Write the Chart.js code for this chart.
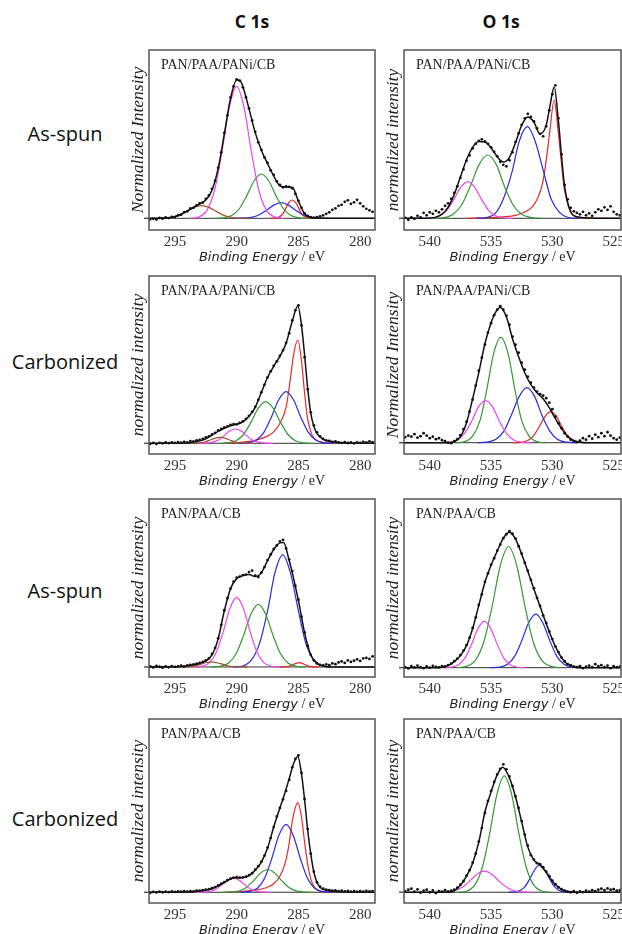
<!DOCTYPE html>
<html>
<head>
<meta charset="utf-8">
<script src="https://cdn.jsdelivr.net/npm/chart.js@4.4.1/dist/chart.umd.min.js"></script>
<style>
html, body { margin: 0; padding: 0; background: #fff; overflow: hidden; width: 622px; height: 934px; }
canvas { position: absolute; }
.t { position: absolute; font-family: "Open Sans"; color: #111; white-space: nowrap; transform: translate(-50%, -50%); }
</style>
</head>
<body>
<div class="t" style="left:252px;top:21px;font-weight:700;font-size:17.5px">C 1s</div>
<div class="t" style="left:501px;top:21px;font-weight:700;font-size:17.5px">O 1s</div>
<div class="t" style="left:65px;top:133px;font-size:20px">As-spun</div>
<div class="t" style="left:65px;top:361px;font-size:20px">Carbonized</div>
<div class="t" style="left:65px;top:590px;font-size:20px">As-spun</div>
<div class="t" style="left:65px;top:818px;font-size:20px">Carbonized</div>
<script>
// ---- axis ticks and ranges (binding energy, eV) ----
const cTicks = [295, 290, 285, 280];
const oTicks = [540, 535, 530, 525];
const cRange = [278.8, 297.1];
const oRange = [524.4, 542.1];

const sampleNames = ['PAN/PAA/PANi/CB', 'PAN/PAA/PANi/CB', 'PAN/PAA/PANi/CB', 'PAN/PAA/PANi/CB',
                     'PAN/PAA/CB', 'PAN/PAA/CB', 'PAN/PAA/CB', 'PAN/PAA/CB'];
const yTitles = ['Normalized Intensity', 'normalized intensity', 'normalized intensity', 'Normalized Intensity',
                 'normalized intensity', 'normalized intensity', 'normalized intensity', 'normalized intensity'];

// energies of the measured points
const cDotE = [297, 296.75, 296.5, 296.25, 296, 295.75, 295.5, 295.25,
  295, 294.75, 294.5, 294.25, 294, 293.75, 293.5, 293.25,
  293, 292.75, 292.5, 292.25, 292, 291.75, 291.5, 291.25,
  291, 290.75, 290.5, 290.25, 290, 289.75, 289.5, 289.25,
  289, 288.75, 288.5, 288.25, 288, 287.75, 287.5, 287.25,
  287, 286.75, 286.5, 286.25, 286, 285.75, 285.5, 285.25,
  285, 284.75, 284.5, 284.25, 284, 283.75, 283.5, 283.25,
  283, 282.75, 282.5, 282.25, 282, 281.75, 281.5, 281.25,
  281, 280.75, 280.5, 280.25, 280, 279.75, 279.5, 279.25,
  279];
const oDotE = [542, 541.75, 541.5, 541.25, 541, 540.75, 540.5, 540.25,
  540, 539.75, 539.5, 539.25, 539, 538.75, 538.5, 538.25,
  538, 537.75, 537.5, 537.25, 537, 536.75, 536.5, 536.25,
  536, 535.75, 535.5, 535.25, 535, 534.75, 534.5, 534.25,
  534, 533.75, 533.5, 533.25, 533, 532.75, 532.5, 532.25,
  532, 531.75, 531.5, 531.25, 531, 530.75, 530.5, 530.25,
  530, 529.75, 529.5, 529.25, 529, 528.75, 528.5, 528.25,
  528, 527.75, 527.5, 527.25, 527, 526.75, 526.5, 526.25,
  526, 525.75, 525.5, 525.25, 525, 524.75, 524.5];

// ---- C 1s, as-spun, PAN/PAA/PANi/CB ----
const c1Dots = [-1.0, -0.5, -1.2, 0.3, -0.4, 0.8, 0.2, 1.5,
  1.2, 3.0, 3.6, 6.2, 7.0, 9.8, 10.5, 13.0,
  14.8, 15.6, 19.5, 22.8, 29.5, 37.5, 50.5, 66.0,
  85.5, 103, 121, 132, 139, 137.5, 131, 121,
  110, 98, 86.5, 76, 68.5, 61, 55.5, 48,
  43.5, 37.0, 33.5, 31.0, 31.8, 31.5, 30.0, 24.5,
  17.5, 10.5, 5.0, 2.5, 1.2, 0.6, 1.2, 2.0,
  3.0, 4.5, 6.0, 8.5, 10.0, 12.5, 13.5, 16.5,
  18.0, 14.5, 16.0, 18.5, 15.0, 12.0, 9.5, 8.0,
  6.5];
const c1Env = [[297.1,0],[296.5,0.1],[296,0.2],[295.5,0.6],[295,1.8],[294.5,4.1],[294,7.4],[293.5,11],[293,14.4],[292.5,18.4],[292,28.1],[291.5,49.9],[291,84.5],[290.5,119.9],[290,138.4],[289.75,138],[289.5,131.8],[289,109.4],[288.5,85.7],[288,68.1],[287.5,54.7],[287,42.3],[286.5,32.4],[286,31.3],[285.5,31.1],[285,17],[284.5,4.6],[284,1.0],[283.5,0.2],[283,0],[278.8,0]];
const c1Brn = [[296.9,0],[296.1,0.1],[295.35,0.8],[294.7,2.7],[294.1,6.4],[293.5,10.7],[292.85,12.7],[292.2,10.7],[291.6,6.4],[291,2.7],[290.35,0.8],[289.6,0.1],[288.9,0]];
const c1Mag = [[293.8,0],[293.1,1.2],[292.4,8.2],[291.8,27.7],[291.2,65.9],[290.6,110.8],[290,131.7],[289.4,110.8],[288.8,65.9],[288.2,27.7],[287.6,8.2],[286.9,1.2],[286.2,0]];
const c1Grn = [[291.8,0],[291.1,0.4],[290.4,2.8],[289.8,9.3],[289.2,22.2],[288.6,37.3],[288,44.3],[287.4,37.3],[286.8,22.2],[286.2,9.3],[285.6,2.8],[284.9,0.4],[284.2,0]];
const c1Blu = [[290.2,0],[289.5,0.1],[288.8,1],[288.2,3.3],[287.6,7.9],[287,13.2],[286.4,15.7],[285.8,13.2],[285.2,7.9],[284.6,3.3],[284,1],[283.3,0.1],[282.6,0]];
const c1Red = [[287.3,0],[286.9,0.2],[286.6,1.1],[286.3,3.8],[286.05,9.2],[285.8,15.4],[285.5,18.3],[285.2,15.4],[284.95,9.2],[284.7,3.8],[284.4,1.1],[284.1,0.2],[283.7,0]];

// ---- O 1s, as-spun, PAN/PAA/PANi/CB ----
const o1Dots = [0.5, -1.5, 1.0, -0.5, 2.5, 1.0, 5.5, 3.0,
  6.0, 4.5, 7.5, 6.0, 9.0, 12.5, 15.0, 19.5,
  25.5, 32.0, 40.5, 49.0, 57.5, 63.0, 70.0, 74.5,
  77.5, 79.0, 77.0, 74.5, 71.0, 66.5, 62.0, 56.5,
  53.5, 52.0, 58.0, 66.0, 76.5, 85.0, 93.5, 100.0,
  104.5, 101.5, 97.0, 90.0, 84.5, 82.0, 92.0, 108.0,
  124.0, 133.0, 100.0, 64.0, 33.5, 19.0, 10.5, 7.0,
  5.5, 4.0, 6.5, 3.0, 5.0, 2.5, 6.0, 9.0,
  7.5, 11.0, 8.5, 12.0, 6.5, 4.0, 3.0];
const o1Env = [[542.1,0],[540.5,0],[540,0.2],[539.5,1.2],[539,4.1],[538.5,11.2],[538,23.9],[537.5,41.3],[537,58.6],[536.5,71],[536,76.8],[535.5,76.3],[535,70.5],[534.5,61.7],[534,56.2],[533.5,61],[533,75.7],[532.5,93],[532,101.2],[531.5,96.1],[531,84.3],[530.5,93.2],[530.2,112],[529.85,131.4],[529.5,96.6],[529.25,62],[529,32],[528.5,6.5],[528,1.5],[527,0.3],[526,0],[524.4,0]];
const o1Mag = [[540.6,0],[539.9,0.3],[539.2,2.3],[538.63,7.7],[538.05,18.4],[537.48,30.9],[536.9,36.7],[536.33,30.9],[535.75,18.4],[535.18,7.7],[534.6,2.3],[533.9,0.3],[533.2,0]];
const o1Grn = [[539.6,0],[538.9,0.5],[538.1,4],[537.4,13.3],[536.7,31.7],[536,53.2],[535.27,63.3],[534.55,53.2],[533.9,31.7],[533.2,13.3],[532.5,4],[531.6,0.5],[530.9,0]];
const o1Blu = [[536.2,0],[535.4,0.8],[534.6,5.7],[534,19.3],[533.3,45.9],[532.7,77.1],[532.03,91.7],[531.4,77.1],[530.7,45.9],[530.1,19.3],[529.4,5.7],[528.7,0.8],[527.9,0]];
const o1Red = [[537,0],[535.5,0.4],[534,1.5],[533,3],[532.5,5],[532,8],[531.6,12],[531.2,20],[530.8,35],[530.5,58],[530.2,88],[529.85,118.3],[529.55,90],[529.3,60],[529.05,32],[528.8,17],[528.5,6],[528,1.5],[527,0.3],[525.5,0]];

// ---- C 1s, carbonized, PAN/PAA/PANi/CB ----
const c2Dots = [-0.5, 0.3, -0.8, 0.5, 0.0, 0.8, 0.2, 1.0,
  0.5, 1.2, 0.6, 1.5, 1.0, 2.2, 1.8, 3.0,
  3.5, 4.5, 5.8, 7.0, 8.8, 10.5, 12.8, 14.5,
  16.0, 17.0, 18.5, 19.2, 19.0, 20.5, 22.0, 24.5,
  27.5, 31.5, 36.5, 43.5, 51.0, 58.5, 66.0, 72.0,
  77.5, 82.0, 87.5, 93.0, 100.5, 110.0, 123.0, 133.0,
  138.0, 118.0, 86.0, 54.0, 31.0, 18.0, 11.0, 7.0,
  4.5, 3.0, 2.5, 1.5, 1.8, 1.0, 0.5, 1.2,
  0.3, 0.8, 0.0, 1.0, 0.5, 1.5, 0.8, 2.0,
  1.2];
const c2Env = [[297.1,0],[294,0.3],[293.5,1.2],[293,2.5],[292.5,4.5],[292,8],[291.5,12],[291,15],[290.5,17.5],[290,19],[289.5,21.5],[289,27],[288.5,36],[288,51],[287.5,66],[287,77],[286.5,87],[286,100],[285.5,122],[285.05,137.3],[284.75,118],[284.5,88],[284.25,55],[284,30],[283.75,17],[283.5,10],[283,4],[282.5,2],[282,1],[281,0.3],[278.8,0]];
const c2Brn = [[294.05,0],[293.55,0.05],[293.05,0.4],[292.6,1.3],[292.2,3],[291.8,5],[291.35,6],[290.9,5],[290.5,3],[290.1,1.3],[289.65,0.4],[289.15,0.05],[288.65,0]];
const c2Mag = [[293.15,0],[292.55,0.1],[292,0.9],[291.5,3],[291.05,7.2],[290.6,12],[290.1,14.3],[289.6,12],[289.15,7.2],[288.7,3],[288.2,0.9],[287.6,0.1],[287.05,0]];
const c2Grn = [[291.45,0],[290.75,0.4],[290.05,2.6],[289.45,8.8],[288.85,20.9],[288.25,35.1],[287.65,41.7],[287.05,35.1],[286.45,20.9],[285.85,8.8],[285.25,2.6],[284.55,0.4],[283.85,0]];
const c2Blu = [[289.8,0],[289.1,0.5],[288.4,3.2],[287.8,10.9],[287.2,25.9],[286.6,43.5],[286,51.7],[285.4,43.5],[284.8,25.9],[284.2,10.9],[283.6,3.2],[282.9,0.5],[282.2,0]];
const c2Red = [[291,0],[289.5,1.2],[288.6,2.7],[287.6,6.7],[287,11.5],[286.5,20],[286,36],[285.7,60],[285.4,88],[285.05,103.3],[284.75,82],[284.5,50],[284.3,28],[284.1,16],[283.9,8.3],[283.5,2.7],[283,0.8],[282,0]];

// ---- O 1s, carbonized, PAN/PAA/PANi/CB ----
const o2Dots = [5.5, 7.0, 6.0, 8.5, 5.0, 6.5, 9.5, 7.0,
  4.5, 6.0, 3.5, 4.5, 2.5, 1.5, 0.0, -0.5,
  1.5, 3.5, 7.5, 13.5, 21.0, 31.0, 43.0, 57.0,
  72.0, 85.0, 98.0, 110.0, 119.5, 127.5, 133.0, 136.5,
  133.0, 127.0, 118.0, 106.0, 98.0, 90.0, 80.0, 73.0,
  66.0, 60.0, 55.0, 51.0, 48.5, 47.0, 44.5, 40.0,
  33.5, 26.0, 19.5, 14.5, 9.5, 6.0, 3.0, 1.5,
  0.5, 2.0, 4.5, 3.0, 6.5, 4.0, 8.0, 5.5,
  9.5, 6.5, 10.5, 7.0, 4.5, 3.0, 5.0];
const o2Env = [[542.1,0],[538.5,0],[538,1],[537.5,6],[537,20],[536.5,44],[536,70],[535.5,99],[535,120],[534.6,131],[534.25,135.3],[533.75,126],[533.25,104],[532.75,86],[532.25,70],[531.75,58],[531.25,50],[530.75,44],[530.25,35],[529.75,24],[529.25,14],[528.75,6],[528.25,2],[527.75,0.5],[527,0],[524.4,0]];
const o2Mag = [[539.15,0],[538.45,0.4],[537.75,2.6],[537.2,8.8],[536.6,21],[536.05,35.3],[535.45,42],[534.85,35.3],[534.3,21],[533.7,8.8],[533.15,2.6],[532.45,0.4],[531.75,0]];
const o2Grn = [[537.9,0],[537.2,0.9],[536.5,6.6],[535.9,22.1],[535.35,52.7],[534.8,88.6],[534.2,105.3],[533.6,88.6],[533.05,52.7],[532.5,22.1],[531.9,6.6],[531.2,0.9],[530.5,0]];
const o2Blu = [[536.1,0],[535.35,0.5],[534.6,3.4],[533.95,11.6],[533.35,27.5],[532.7,46.3],[532.08,55],[531.45,46.3],[530.85,27.5],[530.2,11.6],[529.6,3.4],[528.85,0.5],[528.1,0]];
const o2Red = [[533.2,0],[532.6,0.3],[532.05,1.9],[531.55,6.5],[531.1,15.5],[530.6,26.1],[530.14,31],[529.65,26.1],[529.2,15.5],[528.7,6.5],[528.2,1.9],[527.6,0.3],[527.1,0]];

// ---- C 1s, as-spun, PAN/PAA/CB ----
const c3Dots = [0.5, -0.5, 1.0, 0.2, -0.8, 0.5, -0.3, 0.8,
  0.0, 0.6, 1.2, 0.5, 1.5, 2.0, 2.5, 3.2,
  4.0, 5.0, 6.5, 8.5, 13.0, 19.0, 28.5, 42.0,
  56.5, 68.5, 78.0, 85.0, 89.0, 90.0, 91.5, 92.0,
  94.5, 96.0, 91.0, 89.5, 94.0, 99.5, 106.5, 112.0,
  117.5, 121.0, 125.0, 126.5, 118.0, 107.0, 95.5, 81.0,
  67.0, 50.0, 34.5, 21.0, 12.0, 6.5, 3.5, 2.0,
  1.5, 2.5, 1.8, 3.5, 2.8, 4.5, 5.5, 4.0,
  6.5, 5.0, 6.2, 7.5, 6.0, 8.5, 9.0, 8.0,
  10.5];
const c3Env = [[297.1,0],[294.5,0.5],[294,1.2],[293.5,2.2],[293,3.5],[292.5,6],[292,12],[291.5,28],[291,56],[290.5,78],[290,88],[289.5,91],[289,92],[288.5,90],[288,94],[287.5,106],[287,117],[286.5,123.6],[286.2,124],[285.75,106],[285.5,94],[285,66],[284.5,34],[284,12],[283.5,3.5],[283,1],[282.5,0],[278.8,0]];
const c3Brn = [[294.9,0],[294.35,0.05],[293.8,0.3],[293.4,1.05],[292.95,2.5],[292.5,4.2],[292.03,5],[291.6,4.2],[291.1,2.5],[290.7,1.05],[290.2,0.3],[289.7,0.05],[289.1,0]];
const c3Mag = [[293.5,0],[292.85,0.6],[292.2,4.3],[291.65,14.6],[291.1,34.7],[290.55,58.3],[290,69.3],[289.45,58.3],[288.9,34.7],[288.35,14.6],[287.8,4.3],[287.15,0.6],[286.5,0]];
const c3Grn = [[292.05,0],[291.35,0.6],[290.65,3.9],[290.05,13.1],[289.45,31.2],[288.85,52.4],[288.24,62.3],[287.65,52.4],[287.05,31.2],[286.45,13.1],[285.85,3.9],[285.15,0.6],[284.45,0]];
const c3Blu = [[290.3,0],[289.5,1],[288.8,7],[288.15,23.5],[287.5,55.9],[286.9,93.9],[286.27,111.7],[285.65,93.9],[285,55.9],[284.4,23.5],[283.75,7],[283,1],[282.3,0]];
const c3Red = [[286.55,0],[286.25,0.04],[285.95,0.3],[285.7,0.9],[285.45,2.2],[285.2,3.6],[284.95,4.3],[284.7,3.6],[284.45,2.2],[284.2,0.9],[283.95,0.3],[283.65,0.04],[283.35,0]];

// ---- O 1s, as-spun, PAN/PAA/CB ----
const o3Dots = [0.5, -0.8, 1.5, 0.2, 2.0, 0.5, -0.5, 1.2,
  0.0, 1.8, 0.8, 0.3, 1.5, 1.2, 2.5, 4.0,
  6.5, 9.0, 12.5, 17.0, 22.5, 30.0, 39.5, 50.0,
  62.5, 73.0, 85.5, 94.0, 102.5, 109.0, 116.5, 122.5,
  129.0, 133.0, 136.0, 133.5, 128.5, 121.0, 113.5, 104.5,
  96.5, 87.5, 79.0, 69.5, 61.5, 52.0, 44.5, 36.0,
  28.5, 21.0, 15.5, 10.0, 6.5, 3.5, 2.5, 1.0,
  0.5, 1.5, -0.5, 1.0, 2.0, 0.5, 3.5, 1.5,
  2.5, 0.5, 2.0, -0.5, 1.5, 0.5, 1.0];
const o3Env = [[542.1,0],[539.5,0],[539,0.5],[538.5,2],[538,6],[537.5,12],[537,22],[536.5,39],[536,62],[535.5,85],[535,102],[534.5,116],[534,129],[533.5,135],[533,128],[532.5,113],[532,96],[531.5,78],[531,61],[530.5,44],[530,28],[529.5,15],[529,6],[528.5,2],[528,0.5],[527.5,0],[524.4,0]];
const o3Mag = [[538.9,0],[538.27,0.4],[537.64,2.9],[537.12,9.7],[536.59,23.2],[536.07,38.9],[535.54,46.3],[535.02,38.9],[534.49,23.2],[533.97,9.7],[533.44,2.9],[532.81,0.4],[532.18,0]];
const o3Grn = [[537.87,0],[537.07,1.1],[536.27,7.5],[535.6,25.3],[534.92,60.4],[534.25,101.5],[533.57,120.7],[532.9,101.5],[532.22,60.4],[531.55,25.3],[530.87,7.5],[530.07,1.1],[529.27,0]];
const o3Blu = [[535.05,0],[534.35,0.5],[533.65,3.3],[533.08,11.2],[532.5,26.7],[531.93,44.8],[531.35,53.3],[530.78,44.8],[530.2,26.7],[529.63,11.2],[529.05,3.3],[528.35,0.5],[527.65,0]];

// ---- C 1s, carbonized, PAN/PAA/CB ----
const c4Dots = [-0.5, 0.3, -0.2, 0.5, 0.0, 0.6, 0.2, 0.8,
  0.4, 0.9, 0.5, 1.0, 0.6, 1.2, 0.8, 1.5,
  1.6, 2.2, 2.6, 3.2, 4.0, 5.2, 6.8, 8.5,
  10.2, 12.0, 13.5, 14.6, 15.0, 14.5, 14.8, 15.5,
  17.0, 19.0, 22.5, 26.0, 30.5, 36.5, 44.5, 54.0,
  65.0, 75.5, 84.0, 92.5, 101.0, 112.0, 124.5, 133.0,
  136.5, 119.0, 93.0, 63.0, 38.5, 20.5, 10.0, 5.5,
  3.5, 2.5, 2.0, 1.5, 1.8, 1.2, 1.5, 0.8,
  1.3, 0.7, 1.2, 0.5, 1.0, 0.6, 1.4, 0.8,
  1.2];
const c4Env = [[297.1,0],[294,0.3],[293.5,0.6],[293,1.2],[292.5,2],[292,3.5],[291.5,6.5],[291,10],[290.5,13.2],[290.1,14.5],[289.5,14.5],[289,16.5],[288.5,22],[288,30],[287.5,44],[287,65],[286.5,84],[286.2,95],[285.75,113],[285.4,128],[285.05,135.3],[284.75,118],[284.5,92],[284.25,62],[284,38],[283.75,20],[283.5,10],[283.25,5],[283,3],[282.5,1.5],[282,0.8],[281,0.3],[278.8,0]];
const c4Mag = [[293.31,0],[292.74,0.1],[292.17,0.9],[291.7,3],[291.22,7.2],[290.75,12],[290.27,14.3],[289.8,12],[289.32,7.2],[288.85,3],[288.37,0.9],[287.8,0.1],[287.23,0]];
const c4Grn = [[291.19,0],[290.49,0.2],[289.79,1.4],[289.22,4.8],[288.64,11.4],[288.07,19.1],[287.49,22.7],[286.92,19.1],[286.34,11.4],[285.77,4.8],[285.19,1.4],[284.49,0.2],[283.79,0]];
const c4Blu = [[289.7,0],[289,0.6],[288.3,4.2],[287.73,14.2],[287.15,33.9],[286.58,56.9],[286,67.7],[285.43,56.9],[284.85,33.9],[284.28,14.2],[283.7,4.2],[283,0.6],[282.3,0]];
const c4Red = [[291,0],[289.5,1],[288.5,2.2],[287.6,4.5],[287,8.5],[286.5,16],[286.1,28],[285.8,45],[285.45,74],[285.05,89.3],[284.75,75],[284.5,50],[284.3,32],[284.1,18],[283.85,8],[283.5,2.5],[283,0.5],[282,0]];

// ---- O 1s, carbonized, PAN/PAA/CB ----
const o4Dots = [1.0, 2.5, 3.5, 0.5, 2.8, -0.5, 1.5, 2.5,
  0.0, 1.8, -0.8, 1.2, 0.5, 2.0, 0.8, 1.5,
  2.5, 4.5, 7.5, 11.0, 16.5, 22.0, 29.5, 38.5,
  50.5, 64.0, 79.0, 91.0, 101.0, 110.0, 117.5, 123.0,
  127.5, 122.5, 115.5, 106.0, 95.5, 84.0, 71.0, 57.5,
  46.5, 37.0, 32.5, 29.0, 28.0, 25.0, 20.5, 16.0,
  11.5, 8.0, 5.0, 3.0, 1.5, 0.5, 0.0, 1.0,
  -0.5, 0.8, 0.2, 1.5, 0.5, 2.0, 1.0, 2.5,
  3.5, 2.0, 3.8, 2.5, 3.0, 1.5, 2.0];
const o4Env = [[542.1,0],[538.5,0],[538,1.5],[537.5,7],[537,16],[536.5,29],[536,50],[535.5,80],[535,100],[534.5,117],[534.05,124.7],[533.5,114],[533,95],[532.5,70],[532,45],[531.5,32],[531,27],[530.5,20],[530,11],[529.5,5],[529,1.5],[528.5,0.3],[528,0],[524.4,0]];
const o4Mag = [[539.54,0],[538.79,0.2],[538.04,1.3],[537.42,4.4],[536.79,10.5],[536.17,17.7],[535.54,21],[534.92,17.7],[534.29,10.5],[533.67,4.4],[533.04,1.3],[532.29,0.2],[531.54,0]];
const o4Grn = [[537.72,0],[537.02,1],[536.32,7.3],[535.72,24.4],[535.12,58],[534.52,97.6],[533.92,116],[533.32,97.6],[532.72,58],[532.12,24.4],[531.52,7.3],[530.82,1],[530.12,0]];
const o4Blu = [[533.59,0],[533.11,0.25],[532.63,1.7],[532.23,5.7],[531.83,13.5],[531.43,22.7],[531.03,27],[530.63,22.7],[530.23,13.5],[529.83,5.7],[529.43,1.7],[528.95,0.25],[528.47,0]];

// ---- layout and styles ----
const colors = { brn: '#a0522d', mag: '#ee44ee', grn: '#339933', blu: '#2a2ae0', red: '#e82828' };
const rowTop = [50, 276, 499, 719];
const rowH = [180, 178, 178, 184];
const rowY = [[-11.7, 168.3], [-10.7, 167.3], [-10, 167.3], [-10.7, 172.7]];
const oRowY = [[-11.7, 168.3], [-11.3, 166.7], [-9.3, 168], [-10.7, 172.7]];

const panels = [
  { col: 'c', row: 0, dots: c1Dots, env: c1Env, parts: [[c1Brn, 'brn'], [c1Mag, 'mag'], [c1Grn, 'grn'], [c1Blu, 'blu'], [c1Red, 'red']] },
  { col: 'o', row: 0, dots: o1Dots, env: o1Env, parts: [[o1Mag, 'mag'], [o1Grn, 'grn'], [o1Blu, 'blu'], [o1Red, 'red']] },
  { col: 'c', row: 1, dots: c2Dots, env: c2Env, parts: [[c2Brn, 'brn'], [c2Mag, 'mag'], [c2Grn, 'grn'], [c2Blu, 'blu'], [c2Red, 'red']] },
  { col: 'o', row: 1, dots: o2Dots, env: o2Env, parts: [[o2Mag, 'mag'], [o2Grn, 'grn'], [o2Blu, 'blu'], [o2Red, 'red']] },
  { col: 'c', row: 2, dots: c3Dots, env: c3Env, parts: [[c3Brn, 'brn'], [c3Mag, 'mag'], [c3Grn, 'grn'], [c3Blu, 'blu'], [c3Red, 'red']] },
  { col: 'o', row: 2, dots: o3Dots, env: o3Env, parts: [[o3Mag, 'mag'], [o3Grn, 'grn'], [o3Blu, 'blu']] },
  { col: 'c', row: 3, dots: c4Dots, env: c4Env, parts: [[c4Mag, 'mag'], [c4Grn, 'grn'], [c4Blu, 'blu'], [c4Red, 'red']] },
  { col: 'o', row: 3, dots: o4Dots, env: o4Env, parts: [[o4Mag, 'mag'], [o4Grn, 'grn'], [o4Blu, 'blu']] }
];

// box frame, sample name, axis titles
const frame = {
  id: 'frame',
  afterDatasetsDraw(chart, args, opts) {
    const { ctx, chartArea: a } = chart;
    const y0 = chart.scales.y.getPixelForValue(0);
    ctx.save();
    ctx.strokeStyle = '#555';
    ctx.lineWidth = 1.5;
    ctx.strokeRect(a.left, a.top, a.right - a.left, a.bottom - a.top);
    ctx.beginPath();
    ctx.moveTo(a.left - 5, y0);
    ctx.lineTo(a.left, y0);
    ctx.stroke();

    ctx.fillStyle = '#222';
    ctx.font = '14px "Liberation Serif"';
    ctx.textAlign = 'left';
    ctx.textBaseline = 'alphabetic';
    ctx.fillText(opts.label, a.left + 12, a.top + 18.5);

    ctx.save();
    ctx.translate(a.left - 11, (a.top + a.bottom) / 2);
    ctx.rotate(-Math.PI / 2);
    ctx.font = 'italic 17.5px "Liberation Serif"';
    ctx.textAlign = 'center';
    ctx.textBaseline = 'middle';
    ctx.fillText(opts.yTitle, 0, 0);
    ctx.restore();

    const p1 = 'Binding Energy', p2 = ' / eV';
    ctx.font = 'italic 13px "DejaVu Sans"';
    const w1 = ctx.measureText(p1).width;
    ctx.font = '14px "Liberation Serif"';
    const w2 = ctx.measureText(p2).width;
    const x = (a.left + a.right) / 2 - (w1 + w2) / 2;
    const yb = a.bottom + 31;
    ctx.font = 'italic 13px "DejaVu Sans"';
    ctx.fillText(p1, x, yb);
    ctx.font = '14px "Liberation Serif"';
    ctx.fillText(p2, x + w1, yb);
    ctx.restore();
  }
};

function pts(list) { return list.map(p => ({ x: p[0], y: p[1] })); }

panels.forEach((p, i) => {
  const isC = p.col === 'c';
  const boxW = isC ? 226 : 217;
  const padR = isC ? 4 : 8;
  const cv = document.createElement('canvas');
  cv.width = 30 + boxW + padR;
  cv.height = rowH[p.row] + 40;
  cv.style.left = (isC ? 119 : 374) + 'px';
  cv.style.top = (rowTop[p.row] - 4) + 'px';
  document.body.appendChild(cv);

  const range = isC ? cRange : oRange;
  const ticks = isC ? cTicks : oTicks;
  const energies = isC ? cDotE : oDotE;
  const yr = isC ? rowY[p.row] : oRowY[p.row];

  const datasets = [];
  datasets.push({ data: pts([[range[1], 0], [range[0], 0]]), borderColor: '#333', borderWidth: 1, pointRadius: 0, order: 4 });
  p.parts.forEach(([list, key]) => {
    datasets.push({ data: pts(list), borderColor: colors[key], borderWidth: 1.2, pointRadius: 0,
      cubicInterpolationMode: 'monotone', tension: 0.4, order: 3 });
  });
  datasets.push({ data: pts(p.env), borderColor: '#111', borderWidth: 1.5, pointRadius: 0,
    cubicInterpolationMode: 'monotone', tension: 0.4, order: 2 });
  datasets.push({ data: energies.map((e, k) => ({ x: e, y: p.dots[k] })), showLine: false,
    pointRadius: 1.4, pointBorderWidth: 0, pointBackgroundColor: '#111', order: 1 });

  new Chart(cv, {
    type: 'line',
    data: { datasets },
    options: {
      responsive: false,
      animation: false,
      events: [],
      layout: { padding: { left: 30, top: 4, right: padR, bottom: 14 } },
      plugins: {
        legend: { display: false },
        tooltip: { enabled: false },
        frame: { label: sampleNames[i], yTitle: yTitles[i] }
      },
      scales: {
        x: {
          type: 'linear', reverse: true, min: range[0], max: range[1],
          grid: { display: false, drawTicks: false },
          border: { display: false },
          ticks: { font: { family: 'Liberation Serif', size: 15 }, color: '#333', padding: 3, autoSkip: false, maxRotation: 0 },
          afterBuildTicks: s => { s.ticks = ticks.map(v => ({ value: v })); },
          afterFit: s => { s.height = 22; }
        },
        y: { display: false, min: yr[0], max: yr[1] }
      }
    },
    plugins: [frame]
  });
});
</script>
</body>
</html>
